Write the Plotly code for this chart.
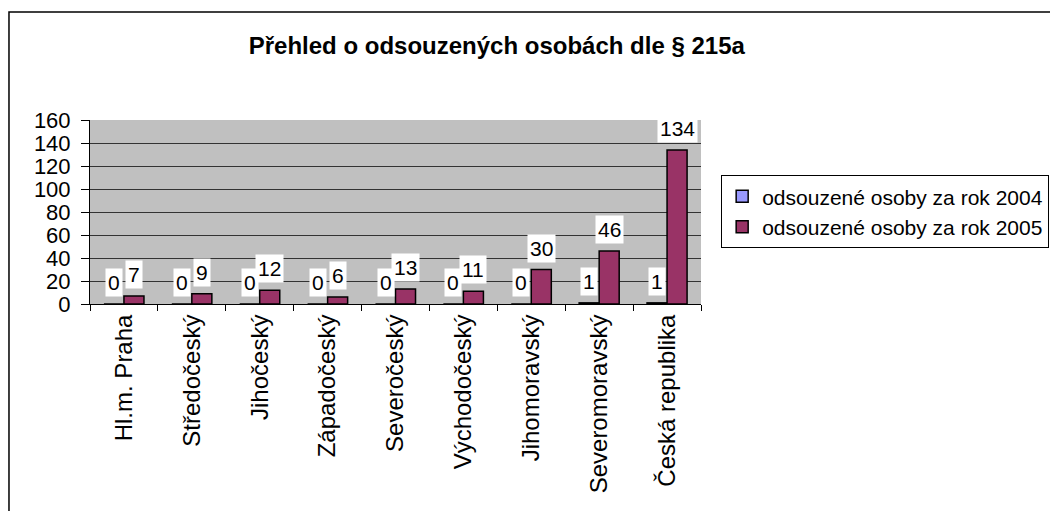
"""
Přehled o odsouzených osobách dle § 215a - grouped bar chart
"""
import plotly.graph_objects as go

regions = ["Hl.m. Praha", "Středočeský", "Jihočeský", "Západočeský",
           "Severočeský", "Východočeský", "Jihomoravský", "Severomoravský",
           "Česká republika"]
persons_2004 = [0, 0, 0, 0, 0, 0, 0, 1, 1]
persons_2005 = [7, 9, 12, 6, 13, 11, 30, 46, 134]
y_ticks = [0, 20, 40, 60, 80, 100, 120, 140, 160]

FONT = "Liberation Sans, Arial, sans-serif"

fig = go.Figure()
fig.add_trace(go.Bar(x=regions, y=persons_2004,
                     name="odsouzené osoby za rok 2004",
                     marker=dict(color="#9999FF",
                                 line=dict(color="black", width=1.5))))
fig.add_trace(go.Bar(x=regions, y=persons_2005,
                     name="odsouzené osoby za rok 2005",
                     marker=dict(color="#993366",
                                 line=dict(color="black", width=1.5))))

# value labels on white boxes, like Excel data labels
for vals, shift in ((persons_2004, -10), (persons_2005, 10)):
    for cat, v in zip(regions, vals):
        fig.add_annotation(x=cat, y=v, text=str(v), showarrow=False,
                           xshift=shift, yshift=7, yanchor="bottom",
                           bgcolor="white", borderpad=2,
                           font=dict(family=FONT, size=21, color="black"))

# outer chart frame (page has an 8px body margin)
fig.add_shape(type="rect", xref="paper", yref="paper",
              x0=-0.1326, x1=2.0, y0=-2.0, y1=1.587,
              line=dict(color="black", width=1.5), layer="below")

fig.update_layout(
    width=1058, height=511,
    margin=dict(l=82, r=365, t=112, b=215, autoexpand=False),
    paper_bgcolor="white",
    plot_bgcolor="#C0C0C0",
    bargap=0.41, bargroupgap=0,
    font=dict(family=FONT, size=21, color="black"),
    title=dict(text="<b>Přehled o odsouzených osobách dle § 215a</b>",
               x=0.462, xref="container", xanchor="center",
               y=0.926, yref="container", yanchor="middle",
               font=dict(family=FONT, size=24, color="black")),
    legend=dict(x=1.033, y=0.70, xanchor="left", yanchor="top",
                bgcolor="white", bordercolor="black", borderwidth=1,
                font=dict(family=FONT, size=21, color="black"),
                tracegroupgap=0),
    showlegend=True,
)
fig.update_xaxes(type="category", tickangle=-90, ticks="outside",
                 tickson="boundaries", ticklen=6, tickcolor="black",
                 showline=True, linecolor="black", linewidth=1,
                 showgrid=False, mirror=False,
                 tickfont=dict(family=FONT, size=24))
fig.update_yaxes(range=[0, 160], tickvals=y_ticks, ticks="outside",
                 ticklen=8, tickcolor="black", ticklabelstandoff=6,
                 showline=True, linecolor="black", linewidth=1,
                 showgrid=True, gridcolor="#333333", gridwidth=1,
                 zeroline=False,
                 tickfont=dict(family=FONT, size=22))

fig.write_html("out.html")
